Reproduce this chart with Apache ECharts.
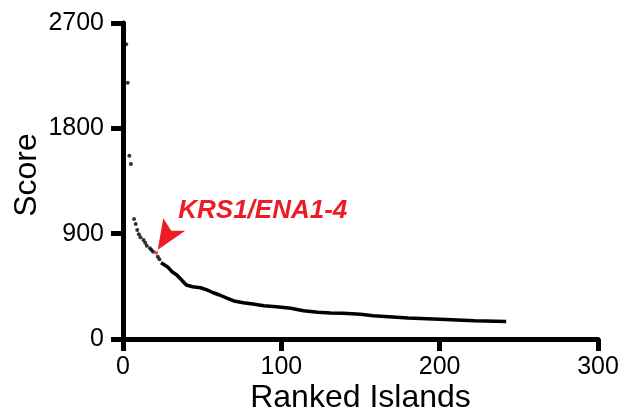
<!DOCTYPE html>
<html>
<head>
<meta charset="utf-8">
<script src="https://cdn.jsdelivr.net/npm/echarts@6/dist/echarts.min.js"></script>
<style>html,body{margin:0;padding:0;background:#fff;}#c{width:627px;height:415px;}</style>
</head>
<body>
<div id="c"></div>
<script>
// Data
const sparseRanks = [2, 3, 4, 5, 7, 8, 9, 10, 11, 13, 14, 15, 17, 18, 19, 22, 23];
const sparseScores = [2518, 2190, 1566, 1495, 1025, 983, 931, 895, 869, 846, 823, 797, 775, 760, 746, 703, 681];
const lineRanks = [24, 28, 31, 34, 37, 40, 44, 49, 53, 57, 61, 66, 70, 76, 82, 89, 97, 106, 114, 123, 131, 139, 150, 158, 180, 200, 222, 242];
const lineScores = [652, 618, 575, 547, 504, 461, 447, 438, 419, 395, 376, 348, 325, 310, 299, 285, 276, 262, 242, 228, 222, 220, 211, 199, 179, 168, 156, 150];
const highlightRank = 21;
const highlightScore = 737;
const highlightLabel = 'KRS1/ENA1-4';
const xTicks = [0, 100, 200, 300];
const yTicks = [0, 900, 1800, 2700];

const RED = '#ed1c24';
const FONT = '"Liberation Sans", Arial, sans-serif';

const chart = echarts.init(document.getElementById('c'), null, {renderer: 'canvas'});

const axisCommon = {
  type: 'value',
  axisLine: {show: true, lineStyle: {color: '#000', width: 5}},
  axisTick: {show: true, inside: false, length: 12, lineStyle: {color: '#000', width: 5}},
  splitLine: {show: false},
  nameMoveOverlap: false
};

chart.setOption({
  animation: false,
  backgroundColor: '#fff',
  grid: {left: 123, right: 29, top: 23, bottom: 76, containLabel: false, outerBoundsMode: 'none'},
  xAxis: Object.assign({}, axisCommon, {
    min: xTicks[0], max: xTicks[xTicks.length - 1], interval: 100,
    name: 'Ranked Islands', nameLocation: 'middle', nameGap: 43,
    nameTextStyle: {color: '#000', fontFamily: FONT, fontSize: 32},
    axisLabel: {color: '#000', fontSize: 25, fontFamily: FONT, margin: 16, formatter: v => String(v)}
  }),
  yAxis: Object.assign({}, axisCommon, {
    min: yTicks[0], max: yTicks[yTicks.length - 1], interval: 900,
    name: 'Score', nameLocation: 'middle', nameGap: 80,
    nameTextStyle: {color: '#000', fontFamily: FONT, fontSize: 32, padding: [0, 0, 0, 12]},
    axisLabel: {color: '#000', fontSize: 25, fontFamily: FONT, margin: 19, formatter: v => String(v)}
  }),
  series: [
    {
      type: 'scatter',
      data: sparseRanks.map((r, i) => [r, sparseScores[i]]),
      symbol: 'circle', symbolSize: 4,
      itemStyle: {color: '#000'}
    },
    {
      type: 'line',
      data: lineRanks.map((r, i) => [r, lineScores[i]]),
      showSymbol: false, symbol: 'none',
      lineStyle: {color: '#000', width: 3.5}
    },
    {
      type: 'scatter',
      data: [[highlightRank, highlightScore]],
      symbol: 'circle', symbolSize: 4,
      itemStyle: {color: RED}, z: 5
    }
  ]
});

const p = chart.convertToPixel({gridIndex: 0}, [highlightRank, highlightScore]);
chart.setOption({
  graphic: [
    {
      type: 'polygon',
      shape: {points: [
        [p[0] + 1.5, p[1] - 3],
        [p[0] + 7, p[1] - 34.5],
        [p[0] + 15, p[1] - 22],
        [p[0] + 29, p[1] - 22]
      ]},
      style: {fill: RED}
    },
    {
      type: 'text',
      x: p[0] + 22, y: p[1] - 41.5,
      style: {text: highlightLabel, fill: RED, font: 'italic bold 26px ' + FONT, verticalAlign: 'middle', align: 'left'}
    }
  ]
});
</script>
</body>
</html>
